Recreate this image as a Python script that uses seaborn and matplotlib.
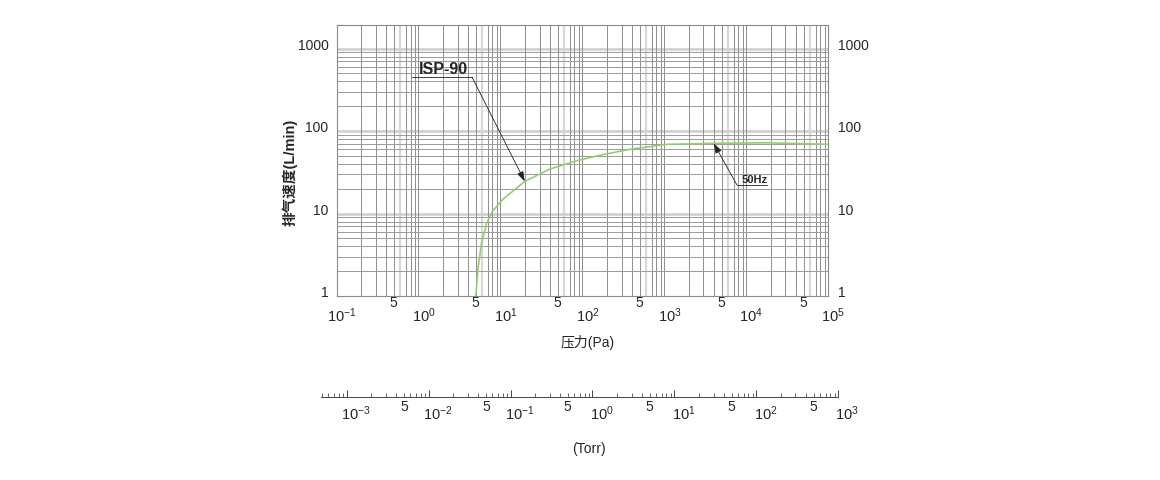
import matplotlib
matplotlib.use('Agg')
import matplotlib.pyplot as plt
import seaborn as sns

# ---- data ----
pressure_pa = [5.0, 5.35, 5.86, 6.75, 8.15, 10.8, 19.8, 40, 84.5, 166, 260, 423, 1080, 4000, 17800, 100000]
speed_lpm = [1.0, 2.25, 4.3, 7.5, 10.9, 15, 24.5, 34.6, 43.5, 51, 55.8, 61, 69, 71, 72, 69]

y_ticks = [1, 10, 100, 1000]
y_tick_labels = ['1', '10', '100', '1000']

pa_decades = [1e-1, 1e0, 1e1, 1e2, 1e3, 1e4, 1e5]
pa_decade_labels = [r'$\mathregular{10^{-1}}$', r'$\mathregular{10^{0}}$', r'$\mathregular{10^{1}}$',
                    r'$\mathregular{10^{2}}$', r'$\mathregular{10^{3}}$', r'$\mathregular{10^{4}}$',
                    r'$\mathregular{10^{5}}$']
pa_fives = [0.5, 5, 50, 500, 5000, 50000]

torr_decades = [1e-3, 1e-2, 1e-1, 1e0, 1e1, 1e2, 1e3]
torr_decade_labels = [r'$\mathregular{10^{-3}}$', r'$\mathregular{10^{-2}}$', r'$\mathregular{10^{-1}}$',
                      r'$\mathregular{10^{0}}$', r'$\mathregular{10^{1}}$', r'$\mathregular{10^{2}}$',
                      r'$\mathregular{10^{3}}$']
torr_fives = [5e-3, 5e-2, 5e-1, 5, 50, 500]

model_label = 'ISP-90'
freq_label = '50Hz'
y_label = '排气速度(L/min)'
x_label = '压力(Pa)'
torr_label = '(Torr)'

# ---- style ----
sns.set_style('white')
plt.rcParams['font.family'] = ['Liberation Sans', 'Noto Sans CJK SC', 'DejaVu Sans']
plt.rcParams['mathtext.fontset'] = 'custom'
plt.rcParams['mathtext.rm'] = 'Liberation Sans'

W, H = 1160, 480
fig = plt.figure(figsize=(W / 100, H / 100), dpi=100)
fig.patch.set_facecolor('white')


def px_axes(l, t, r, b):
    return fig.add_axes([l / W, 1 - b / H, (r - l) / W, (b - t) / H])


ax = px_axes(336.5, 25, 828.3, 296)
ax.set_xscale('log')
ax.set_yscale('log')
ax.set_xlim(0.1, 1e5)
ax.set_ylim(1, 1930)

# grid
for e in range(-1, 5):
    for m in range(1, 10):
        v = m * 10.0 ** e
        if v <= 0.1 or v >= 1e5:
            continue
        if m == 6:
            ax.axvline(v, color='#d8d8d8', lw=1.6, zorder=0)
        else:
            ax.axvline(v, color='#8e8e8e', lw=0.7, zorder=1)
for e in range(0, 4):
    for m in range(1, 10):
        v = m * 10.0 ** e
        if v <= 1 or v >= 1930:
            continue
        if m == 1:
            ax.axhline(v, color='#d2d2d2', lw=2.0, zorder=0)
        else:
            ax.axhline(v, color='#9a9a9a', lw=0.7, zorder=1)

sns.lineplot(x=pressure_pa, y=speed_lpm, ax=ax, color='#92cf6e', lw=1.2, zorder=3)
ax.set_xlim(0.1, 1e5)
ax.set_ylim(1, 1930)

ax.tick_params(which='both', length=0, labelleft=False, labelbottom=False)
ax.set_xlabel('')
ax.set_ylabel('')
for s in ax.spines.values():
    s.set_color('#8a8a8a')
    s.set_linewidth(0.8)

# y labels both sides
for v, lab in zip(y_ticks, y_tick_labels):
    ax.annotate(lab, xy=(0, v), xycoords=('axes fraction', 'data'), xytext=(-8, 3),
                textcoords='offset pixels', ha='right', va='center', fontsize=10)
    ax.annotate(lab, xy=(1, v), xycoords=('axes fraction', 'data'), xytext=(10, 3),
                textcoords='offset pixels', ha='left', va='center', fontsize=10)

# x labels (Pa)
for v in pa_fives:
    ax.annotate('5', xy=(v, 0), xycoords=('data', 'axes fraction'), xytext=(0, -7),
                textcoords='offset pixels', ha='center', va='center', fontsize=10)
for v, lab in zip(pa_decades, pa_decade_labels):
    ax.annotate(lab, xy=(v, 0), xycoords=('data', 'axes fraction'), xytext=(5, -20),
                textcoords='offset pixels', ha='center', va='center', fontsize=10.5)

# annotations
ax.annotate('', xy=(pressure_pa[6], speed_lpm[6]), xycoords='data',
            xytext=(0.2755, 0.808), textcoords='axes fraction',
            arrowprops=dict(arrowstyle='-|>,head_length=0.6,head_width=0.2', color='#222222',
                            lw=0.6, mutation_scale=10, shrinkA=0, shrinkB=0), zorder=5)
ax.plot([0.1535, 0.2755], [0.808, 0.808], transform=ax.transAxes, color='#222222', lw=0.6, zorder=5)
ax.text(0.2166, 0.834, model_label, transform=ax.transAxes, fontsize=11.5, fontweight='bold',
        ha='center', va='center', zorder=6)

ax.annotate('', xy=(pressure_pa[13], speed_lpm[13]), xycoords='data',
            xytext=(0.8143, 0.4096), textcoords='axes fraction',
            arrowprops=dict(arrowstyle='-|>,head_length=0.6,head_width=0.2', color='#222222',
                            lw=0.6, mutation_scale=10, shrinkA=0, shrinkB=0), zorder=5)
ax.plot([0.8143, 0.8753], [0.4096, 0.4096], transform=ax.transAxes, color='#222222', lw=0.6, zorder=5)
ax.text(0.8496, 0.4262, freq_label, transform=ax.transAxes, fontsize=8, fontweight='bold',
        ha='center', va='center', zorder=6)

# axis titles
fig.text(290 / W, 1 - 172 / H, y_label, rotation=90, ha='center', va='center', fontsize=10.5,
         fontweight='bold')
fig.text(588 / W, 1 - 343 / H, x_label, ha='center', va='center', fontsize=10)
fig.text(589 / W, 1 - 449 / H, torr_label, ha='center', va='center', fontsize=10)

# ---- Torr scale ----
ax2 = px_axes(321, 396, 838.3, 397)
ax2.set_xscale('log')
ax2.set_xlim(10 ** -3.313, 1e3)
ax2.set_yticks([])
for k in ['left', 'right', 'top']:
    ax2.spines[k].set_visible(False)
ax2.spines['bottom'].set_color('#444444')
ax2.spines['bottom'].set_linewidth(0.7)
ax2.patch.set_alpha(0)
ax2.xaxis.set_major_locator(matplotlib.ticker.LogLocator(base=10, numticks=20))
ax2.xaxis.set_minor_locator(matplotlib.ticker.LogLocator(base=10, subs=range(2, 10), numticks=20))
ax2.tick_params(axis='x', which='major', bottom=True, direction='in', length=5.4, width=0.7,
                color='#444444', labelbottom=False)
ax2.tick_params(axis='x', which='minor', bottom=True, direction='in', length=2.6, width=0.7,
                color='#666666', labelbottom=False)
for v in torr_fives:
    ax2.annotate('5', xy=(v, 0), xycoords=('data', 'axes fraction'), xytext=(0, -10),
                 textcoords='offset pixels', ha='center', va='center', fontsize=10,
                 annotation_clip=False)
for v, lab in zip(torr_decades, torr_decade_labels):
    ax2.annotate(lab, xy=(v, 0), xycoords=('data', 'axes fraction'), xytext=(9, -17),
                 textcoords='offset pixels', ha='center', va='center', fontsize=10.5,
                 annotation_clip=False)

fig.savefig('out.png', dpi=100, facecolor='white')
